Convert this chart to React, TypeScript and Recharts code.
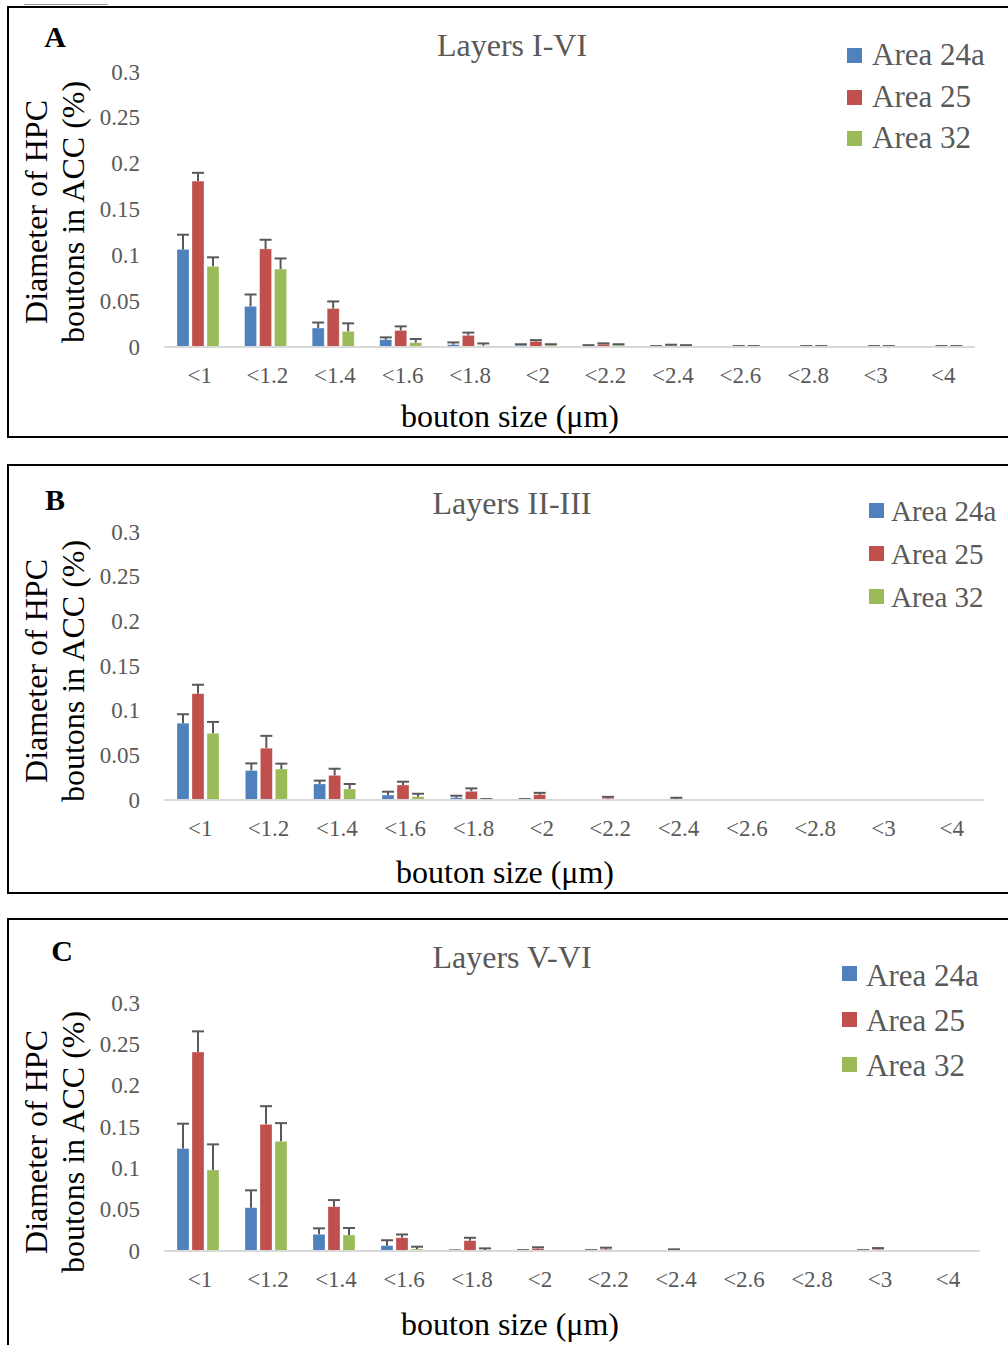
import React from 'react';
import { BarChart, Bar, XAxis, YAxis, Legend } from 'recharts';

const categories = ['<1', '<1.2', '<1.4', '<1.6', '<1.8', '<2', '<2.2', '<2.4', '<2.6', '<2.8', '<3', '<4'];
const seriesNames = ['Area 24a', 'Area 25', 'Area 32'];
const seriesColors = ['#4F81BD', '#C0504D', '#9BBB59'];
const yTicks = [0, 0.05, 0.1, 0.15, 0.2, 0.25, 0.3];
const yTickLabels = ['0', '0.05', '0.1', '0.15', '0.2', '0.25', '0.3'];
const Y_MAX = 0.3;

// Panel A: Layers I-VI
const aArea24a = [0.1065, 0.0443, 0.0207, 0.008, 0.0025, 0.002, 0.001, 0.0005, 0, 0, 0, 0];
const aArea24aErr = [0.016, 0.013, 0.006, 0.0025, 0.0025, 0.001, 0.001, 0.0005, 0, 0, 0, 0];
const aArea25 = [0.181, 0.107, 0.042, 0.018, 0.0127, 0.006, 0.003, 0.0015, 0, 0, 0, 0];
const aArea25Err = [0.009, 0.01, 0.0077, 0.0045, 0.003, 0.0015, 0.001, 0.001, 0.001, 0.001, 0.001, 0.001];
const aArea32 = [0.088, 0.085, 0.017, 0.0047, 0.0014, 0.002, 0.002, 0.001, 0, 0, 0, 0];
const aArea32Err = [0.0098, 0.0116, 0.0088, 0.004, 0.0025, 0.001, 0.001, 0.001, 0.001, 0.001, 0.001, 0.001];

// Panel B: Layers II-III
const bArea24a = [0.086, 0.033, 0.018, 0.0056, 0.0026, 0, 0, 0, 0, 0, 0, 0];
const bArea24aErr = [0.01, 0.008, 0.0037, 0.0037, 0.0022, 0.001, 0, 0, 0, 0, 0, 0];
const bArea25 = [0.119, 0.058, 0.0276, 0.0168, 0.0097, 0.006, 0.002, 0.001, 0, 0, 0, 0];
const bArea25Err = [0.01, 0.0138, 0.0074, 0.0037, 0.0033, 0.002, 0.0015, 0.0015, 0, 0, 0, 0];
const bArea32 = [0.0747, 0.0347, 0.0123, 0.0037, 0, 0, 0, 0, 0, 0, 0, 0];
const bArea32Err = [0.0127, 0.006, 0.0056, 0.0033, 0.001, 0, 0, 0, 0, 0, 0, 0];

// Panel C: Layers V-VI
const cArea24a = [0.124, 0.0524, 0.0202, 0.0065, 0, 0, 0, 0, 0, 0, 0, 0];
const cArea24aErr = [0.03, 0.021, 0.0072, 0.0065, 0.0007, 0.001, 0.001, 0, 0, 0, 0.001, 0];
const cArea25 = [0.2407, 0.1532, 0.0536, 0.016, 0.0125, 0.003, 0.002, 0.001, 0, 0, 0.002, 0];
const cArea25Err = [0.025, 0.022, 0.008, 0.004, 0.0035, 0.0015, 0.002, 0.001, 0, 0, 0.0015, 0];
const cArea32 = [0.098, 0.1327, 0.0194, 0.0024, 0.0008, 0, 0, 0, 0, 0, 0, 0];
const cArea32Err = [0.031, 0.022, 0.0084, 0.0028, 0.0024, 0, 0, 0, 0, 0, 0, 0];

const FONT = "'Liberation Serif', 'Times New Roman', serif";
const GREY = '#595959';

const buildData = (vals: number[][], errs: number[][]) =>
  categories.map((c, i) => ({
    category: c,
    s0: vals[0][i], e0: errs[0][i],
    s1: vals[1][i], e1: errs[1][i],
    s2: vals[2][i], e2: errs[2][i],
  }));

const panels = [
  {
    letter: 'A', letterX: 55, letterY: 36, title: 'Layers I-VI', titleY: 45,
    frameTop: 6, frameH: 432, plotLeft: 164, plotRight: 975, plotTop: 72, plotBottom: 347,
    yTitleY: 212, xTitleX: 510, xTitleY: 416,
    legend: { squareX: 847, textX: 872, squareYs: [55, 97, 138], textYs: [54, 96, 137], font: 31, sq: 15 },
    data: buildData([aArea24a, aArea25, aArea32], [aArea24aErr, aArea25Err, aArea32Err]),
  },
  {
    letter: 'B', letterX: 55, letterY: 499, title: 'Layers II-III', titleY: 503,
    frameTop: 464, frameH: 430, plotLeft: 164, plotRight: 984, plotTop: 532, plotBottom: 800,
    yTitleY: 671, xTitleX: 505, xTitleY: 872,
    legend: { squareX: 869, textX: 891, squareYs: [510, 553, 596], textYs: [511, 554, 597], font: 29, sq: 15 },
    data: buildData([bArea24a, bArea25, bArea32], [bArea24aErr, bArea25Err, bArea32Err]),
  },
  {
    letter: 'C', letterX: 62, letterY: 950, title: 'Layers V-VI', titleY: 957,
    frameTop: 918, frameH: 440, plotLeft: 164, plotRight: 980, plotTop: 1003, plotBottom: 1251,
    yTitleY: 1142, xTitleX: 510, xTitleY: 1324,
    legend: { squareX: 842, textX: 866, squareYs: [973, 1019, 1064], textYs: [975, 1020, 1065], font: 31, sq: 15 },
    data: buildData([cArea24a, cArea25, cArea32], [cArea24aErr, cArea25Err, cArea32Err]),
  },
];

const makeShape = (errKey: string) => (props: any) => {
  const { x, y, width, height, fill, payload, background, value } = props;
  const err = (payload && payload[errKey]) || 0;
  let ppu = 0;
  if (background && background.height) ppu = background.height / Y_MAX;
  else if (typeof value === 'number' && value > 0) ppu = height / value;
  const errPx = err * ppu;
  const cx = x + width / 2;
  const top = y - errPx;
  return (
    <g>
      {height > 0 && <rect x={x} y={y} width={width} height={height} fill={fill} stroke="#ffffff" strokeOpacity={0.5} strokeWidth={0.6} />}
      {errPx > 0 && (
        <g stroke={GREY} strokeWidth={2}>
          <line x1={cx} y1={y} x2={cx} y2={top} />
          <line x1={x} y1={top} x2={x + width} y2={top} />
        </g>
      )}
    </g>
  );
};

const shapes = [makeShape('e0'), makeShape('e1'), makeShape('e2')];

const XTick = (props: any) => {
  const { x, y, payload } = props;
  return (
    <text x={x + 2} y={y + 28} textAnchor="middle" dominantBaseline="central" fill={GREY} fontSize={23} fontFamily={FONT}>
      {payload.value}
    </text>
  );
};

const YTick = (props: any) => {
  const { x, y, payload } = props;
  const idx = yTicks.indexOf(payload.value);
  return (
    <text x={x} y={y} textAnchor="end" dominantBaseline="central" fill={GREY} fontSize={23} fontFamily={FONT}>
      {idx >= 0 ? yTickLabels[idx] : payload.value}
    </text>
  );
};

const Panel = ({ p }: { p: any }) => {
  const xAxisH = 80;
  const mb = p.frameH - (p.plotBottom - p.frameTop) - xAxisH;
  const lg = p.legend;
  const wrapTop = lg.squareYs[0] - p.frameTop - 30;
  const legendContent = (lp: any) => {
    const payload = lp.payload || [];
    return (
      <div style={{ position: 'relative', width: 180, height: 150 }}>
        {payload.map((item: any, i: number) => (
          <React.Fragment key={i}>
            <div style={{ position: 'absolute', left: 0, top: lg.squareYs[i] - p.frameTop - wrapTop - lg.sq / 2, width: lg.sq, height: lg.sq, background: item.color }} />
            <div style={{ position: 'absolute', left: lg.textX - lg.squareX, top: lg.textYs[i] - p.frameTop - wrapTop, transform: 'translateY(-50%)', fontFamily: FONT, fontSize: lg.font, lineHeight: 1, color: GREY, whiteSpace: 'nowrap' }}>
              {item.value}
            </div>
          </React.Fragment>
        ))}
      </div>
    );
  };
  return (
    <div style={{ position: 'absolute', left: 0, top: p.frameTop, width: 1008, height: p.frameH }}>
      <BarChart
        width={1008}
        height={p.frameH}
        data={p.data}
        margin={{ top: p.plotTop - p.frameTop, right: 1008 - p.plotRight, bottom: mb, left: 0 }}
        barSize={12}
        barGap={3}
      >
        <XAxis dataKey="category" height={xAxisH} interval={0} tickSize={0} tickMargin={0} tickLine={false} axisLine={{ stroke: '#d9d9d9', strokeWidth: 2 }} tick={<XTick />} />
        <YAxis width={p.plotLeft} domain={[0, Y_MAX]} ticks={yTicks} interval={0} tickSize={0} tickMargin={24} tickLine={false} axisLine={false} tick={<YTick />} />
        <Legend
          layout="vertical"
          align="center"
          verticalAlign="middle"
          content={legendContent}
          wrapperStyle={{ position: 'absolute', left: lg.squareX, top: wrapTop, width: 180, height: 150 }}
        />
        {seriesNames.map((n, i) => (
          <Bar key={n} dataKey={'s' + i} name={n} fill={seriesColors[i]} isAnimationActive={false} shape={shapes[i]} />
        ))}
      </BarChart>
    </div>
  );
};

export default function App() {
  return (
    <div style={{ position: 'absolute', left: 0, top: 0, width: 1008, height: 1345, overflow: 'hidden', background: '#ffffff', fontFamily: FONT }}>
      <div style={{ position: 'absolute', left: 24, top: 4, width: 84, height: 1, background: '#9a9a9a' }} />
      {panels.map((p) => (
        <div key={p.letter + 'f'} style={{ position: 'absolute', left: 7, top: p.frameTop, width: 1020, height: p.frameH, border: '2px solid #000', boxSizing: 'border-box' }} />
      ))}
      {panels.map((p) => (
        <Panel key={p.letter} p={p} />
      ))}
      <svg width={1008} height={1345} style={{ position: 'absolute', left: 0, top: 0, pointerEvents: 'none' }}>
        {panels.map((p) => (
          <g key={p.letter + 't'} fontFamily={FONT}>
            <text x={p.letterX} y={p.letterY} textAnchor="middle" dominantBaseline="central" fontSize={30} fontWeight="bold" fill="#000">{p.letter}</text>
            <text x={512} y={p.titleY} textAnchor="middle" dominantBaseline="central" fontSize={32} fill={GREY}>{p.title}</text>
            <text x={36} y={p.yTitleY} transform={`rotate(-90 36 ${p.yTitleY})`} textAnchor="middle" dominantBaseline="central" fontSize={32} fill="#000">Diameter of HPC</text>
            <text x={72.5} y={p.yTitleY} transform={`rotate(-90 72.5 ${p.yTitleY})`} textAnchor="middle" dominantBaseline="central" fontSize={32} fill="#000">boutons in ACC (%)</text>
            <text x={p.xTitleX} y={p.xTitleY} textAnchor="middle" dominantBaseline="central" fontSize={32} fill="#000">bouton size (μm)</text>
          </g>
        ))}
      </svg>
    </div>
  );
}
